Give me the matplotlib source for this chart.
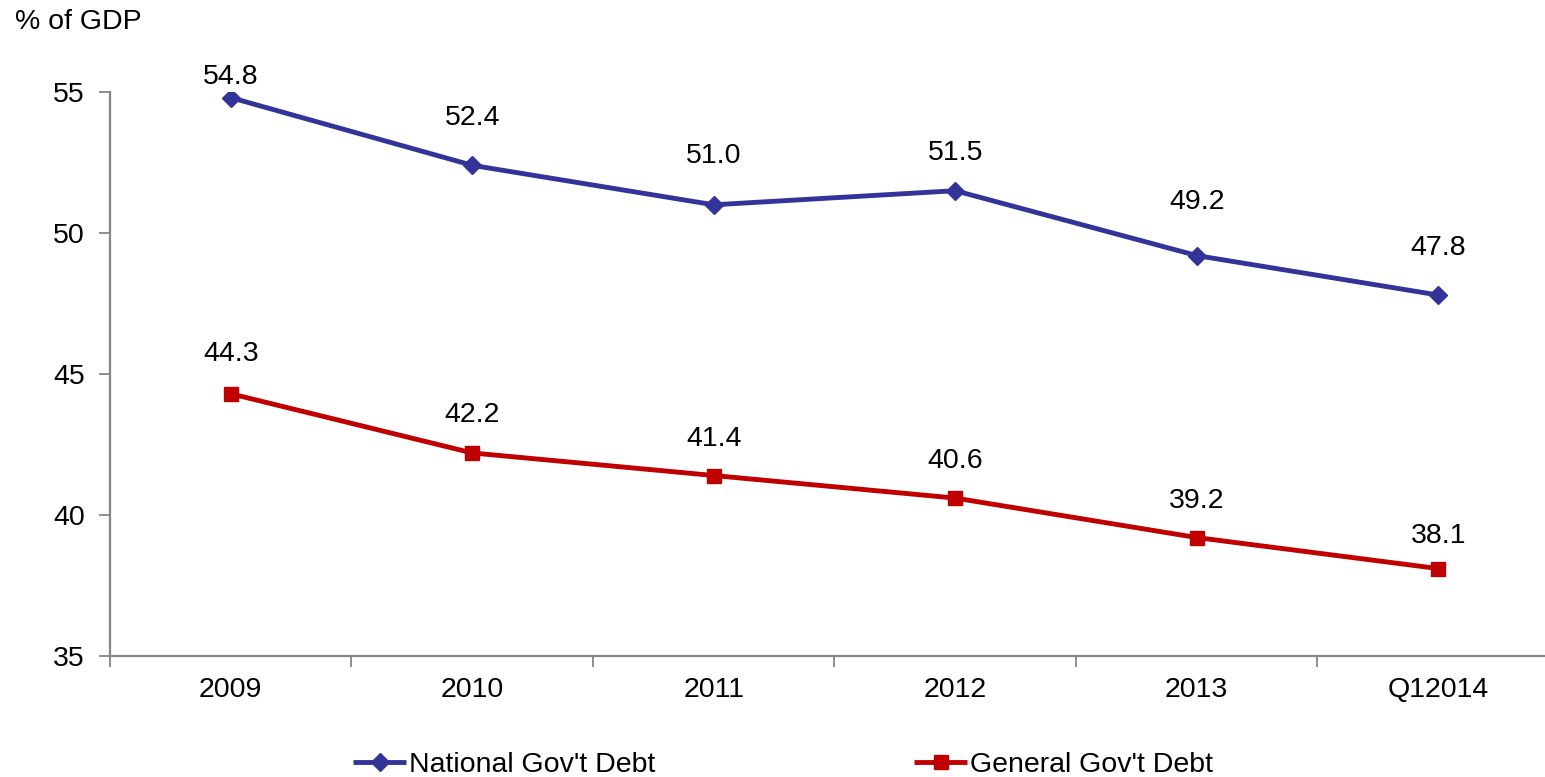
import matplotlib
matplotlib.use("Agg")
import matplotlib.pyplot as plt
import numpy as np

categories = ["2009", "2010", "2011", "2012", "2013", "Q12014"]
national_debt = [54.8, 52.4, 51.0, 51.5, 49.2, 47.8]
general_debt = [44.3, 42.2, 41.4, 40.6, 39.2, 38.1]
y_ticks = [35, 40, 45, 50, 55]

# label offsets above each point, in pixels
national_offsets = [21, 47, 49, 38, 54, 47]
general_offsets = [40, 38, 37, 37, 37, 33]

plt.rcParams["font.family"] = ["Liberation Sans", "DejaVu Sans"]
FS = 20.5
AXIS_GRAY = "#868686"
BLUE = "#333399"
RED = "#C00000"

W, H = 1545, 777
fig = plt.figure(figsize=(W / 100, H / 100), dpi=100)
left, right = 110 / W, 1559 / W
bottom, top = (H - 656) / H, (H - 92) / H
ax = fig.add_axes([left, bottom, right - left, top - bottom])

x = np.arange(len(categories))
ax.plot(x, national_debt, color=BLUE, lw=3.5, marker="D", ms=9.5,
        label="National Gov't Debt", solid_capstyle="butt")
ax.plot(x, general_debt, color=RED, lw=3.5, marker="s", ms=10,
        label="General Gov't Debt", solid_capstyle="butt")

for xi, v, off in zip(x, national_debt, national_offsets):
    ax.annotate(f"{v:.1f}", (xi, v), xytext=(0, off * 0.72), textcoords="offset points",
                ha="center", va="center", fontsize=FS, color="black")
for xi, v, off in zip(x, general_debt, general_offsets):
    ax.annotate(f"{v:.1f}", (xi, v), xytext=(0, off * 0.72), textcoords="offset points",
                ha="center", va="center", fontsize=FS, color="black")

ax.set_xlim(-0.5, len(categories) - 0.5)
ax.set_ylim(35, 55)
ax.set_yticks(y_ticks)
ax.set_yticklabels([str(t) for t in y_ticks], fontsize=FS)
ax.set_xticks(x)
ax.set_xticklabels(categories, fontsize=FS)
ax.set_xticks(np.arange(len(categories) + 1) - 0.5, minor=True)

ax.tick_params(axis="x", which="major", length=0, pad=15)
ax.tick_params(axis="x", which="minor", length=8, width=1.3, color=AXIS_GRAY, direction="out")
ax.tick_params(axis="y", which="major", length=8, width=1.3, color=AXIS_GRAY, direction="out", pad=10)

for s in ["top", "right"]:
    ax.spines[s].set_visible(False)
for s in ["left", "bottom"]:
    ax.spines[s].set_color(AXIS_GRAY)
    ax.spines[s].set_linewidth(1.6)

fig.text(15 / W, 1 - 22 / H, "% of GDP", fontsize=FS, ha="left", va="center")

fig.legend(loc="center", bbox_to_anchor=(783 / W, 1 - 765 / H), ncol=2, frameon=False,
           fontsize=FS, handlelength=1.85, handletextpad=0.1, columnspacing=9.1,
           borderaxespad=0)

fig.savefig("out.png", dpi=100)
